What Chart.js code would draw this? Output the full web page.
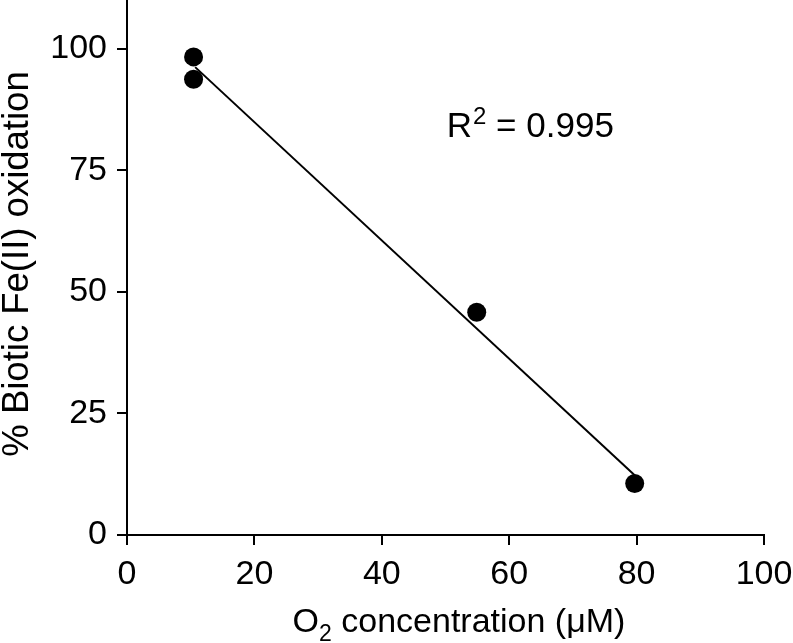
<!DOCTYPE html>
<html>
<head>
<meta charset="utf-8">
<script src="https://cdn.jsdelivr.net/npm/chart.js@4.4.1/dist/chart.umd.min.js"></script>
<style>
  html, body { margin: 0; padding: 0; background: #fff; }
  #wrap { width: 793px; height: 643px; }
</style>
</head>
<body>
<div id="wrap"><canvas id="chart" width="793" height="643"></canvas></div>
<script>
// ---- data ----
const o2Conc = [10.45, 10.45, 54.9, 79.7];
const bioticOx = [98.3, 93.7, 45.8, 10.6];
const fitX = [10.7, 79.7];
const fitY = [96.2, 12.3];
const xTicks = [0, 20, 40, 60, 80, 100];
const yTicks = [0, 25, 50, 75, 100];
const rSquared = '0.995';

const FONT = '"Liberation Sans", Arial, Helvetica, sans-serif';

// axis titles + R² label, drawn as canvas text so sub/superscripts work
const labelsPlugin = {
  id: 'labels',
  afterDraw(chart) {
    const ctx = chart.ctx;
    const { x, y } = chart.scales;
    ctx.save();
    ctx.fillStyle = '#000';
    ctx.textBaseline = 'alphabetic';
    ctx.textAlign = 'left';

    // x title: O2 concentration (μM)
    const big = '34px ' + FONT, small = '23px ' + FONT;
    ctx.font = big;
    const wO = ctx.measureText('O').width;
    const wRest = ctx.measureText(' concentration (\u03bcM)').width;
    ctx.font = small;
    const w2 = ctx.measureText('2').width;
    let sx = 459 - (wO + w2 + wRest) / 2;
    const base = 632;
    ctx.font = big;
    ctx.fillText('O', sx, base);
    ctx.font = small;
    ctx.fillText('2', sx + wO, base + 9);
    ctx.font = big;
    ctx.fillText(' concentration (\u03bcM)', sx + wO + w2, base);

    // y title
    ctx.save();
    ctx.translate(28, 264);
    ctx.rotate(-Math.PI / 2);
    ctx.textAlign = 'center';
    ctx.font = '36.5px ' + FONT;
    ctx.fillText('% Biotic Fe(II) oxidation', 0, 0);
    ctx.restore();

    // R² = 0.995
    const px = x.getPixelForValue(50.2);
    const py = y.getPixelForValue(81.8);
    ctx.font = '35px ' + FONT;
    const wR = ctx.measureText('R').width;
    ctx.fillText('R', px, py);
    ctx.font = '24px ' + FONT;
    const wSup = ctx.measureText('2').width;
    ctx.fillText('2', px + wR + 1, py - 13);
    ctx.font = '35px ' + FONT;
    ctx.fillText(' = ' + rSquared, px + wR + wSup + 1, py);
    ctx.restore();
  }
};

new Chart(document.getElementById('chart'), {
  type: 'scatter',
  data: {
    datasets: [
      {
        type: 'line',
        data: fitX.map((v, i) => ({ x: v, y: fitY[i] })),
        borderColor: '#000',
        borderWidth: 2,
        pointRadius: 0,
        fill: false
      },
      {
        data: o2Conc.map((v, i) => ({ x: v, y: bioticOx[i] })),
        backgroundColor: '#000',
        borderColor: '#000',
        pointRadius: 9.5,
        pointBorderWidth: 0
      }
    ]
  },
  options: {
    responsive: false,
    animation: false,
    layout: { autoPadding: false, padding: { left: 0, right: 29, top: 0, bottom: 0 } },
    plugins: { legend: { display: false }, tooltip: { enabled: false } },
    scales: {
      x: {
        type: 'linear',
        min: 0, max: 100,
        afterBuildTicks: s => { s.ticks = xTicks.map(v => ({ value: v })); },
        afterFit: s => { s.height = 108; s.paddingLeft = 0; s.paddingRight = 0; },
        border: { display: true, color: '#000', width: 2 },
        grid: { drawOnChartArea: false, drawTicks: true, tickLength: 10, color: '#000', lineWidth: 2 },
        ticks: { color: '#000', font: { family: FONT, size: 34 }, padding: 9, maxRotation: 0 }
      },
      y: {
        type: 'linear',
        min: 0, max: 110,
        afterBuildTicks: s => { s.ticks = yTicks.map(v => ({ value: v })); },
        afterFit: s => { s.width = 127; s.paddingTop = 0; s.paddingBottom = 0; },
        border: { display: true, color: '#000', width: 2 },
        grid: { drawOnChartArea: false, drawTicks: true, tickLength: 10, color: '#000', lineWidth: 2 },
        ticks: { color: '#000', font: { family: FONT, size: 34 }, padding: 10 }
      }
    }
  },
  plugins: [labelsPlugin]
});
</script>
</body>
</html>
